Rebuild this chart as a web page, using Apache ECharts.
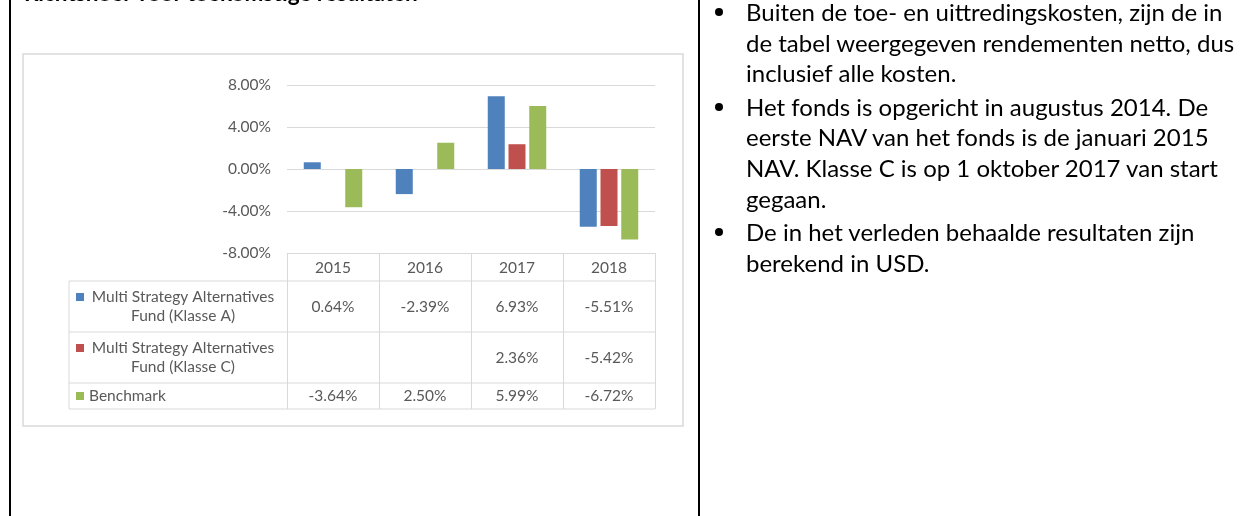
<!DOCTYPE html>
<html>
<head>
<meta charset="utf-8">
<script src="https://cdn.jsdelivr.net/npm/echarts@6/dist/echarts.min.js"></script>
<style>
body{margin:0;background:#fff;}
#page{position:relative;width:1246px;height:516px;overflow:hidden;font-family:Lato,sans-serif;color:#000;}
#chart{position:absolute;left:0;top:0;width:1246px;height:516px;}
.vline{position:absolute;top:0;width:2px;height:516px;background:#000;}
#title{position:absolute;left:24px;top:-22px;font-weight:bold;font-size:22.5px;line-height:30px;white-space:nowrap;}
#notes{position:absolute;left:716px;top:-3px;font-size:24px;line-height:30.7px;white-space:nowrap;}
#notes .item{position:relative;padding-left:30px;margin-bottom:2.5px;}
#notes .item:before{content:'';position:absolute;left:-1px;top:11px;width:8px;height:8px;border-radius:50%;background:#000;}
</style>
</head>
<body>
<div id="page">
  <div id="chart"></div>
  <div class="vline" style="left:9px"></div>
  <div class="vline" style="left:698px"></div>
  <div id="title">Richtsnoer voor toekomstige resultaten</div>
  <div id="notes">
    <div class="item">Buiten de toe- en uittredingskosten, zijn de in<br>de tabel weergegeven rendementen netto, dus<br>inclusief alle kosten.</div>
    <div class="item">Het fonds is opgericht in augustus 2014. De<br>eerste NAV van het fonds is de januari 2015<br>NAV. Klasse C is op 1 oktober 2017 van start<br>gegaan.</div>
    <div class="item">De in het verleden behaalde resultaten zijn<br>berekend in USD.</div>
  </div>
</div>
<script>
// data (percent)
var years = ['2015', '2016', '2017', '2018'];
var klasseA = [0.64, -2.39, 6.93, -5.51];
var klasseC = [null, null, 2.36, -5.42];
var benchmark = [-3.64, 2.50, 5.99, -6.72];
var seriesNames = ['Multi Strategy Alternatives\nFund (Klasse A)', 'Multi Strategy Alternatives\nFund (Klasse C)', 'Benchmark'];
var seriesColors = ['#4f81bd', '#c0504d', '#9bbb59'];
var yMin = -8, yMax = 8, yStep = 4;

var gridColor = '#d9d9d9';
var textColor = '#595959';
var font = 'Lato, sans-serif';
var fontSize = 15.5;

var table = {
	left: 69,
	top: 253,
	headerHeight: 28,
	rowHeights: [51, 51, 26]
};

var chart = echarts.init(document.getElementById('chart'));

function pct(v) {
	return v.toFixed(2) + '%';
}

function buildSeries() {
	var all = [klasseA, klasseC, benchmark];
	return all.map(function (values, i) {
		return {
			name: seriesNames[i],
			type: 'bar',
			data: values,
			barWidth: 17,
			barGap: '22%',
			itemStyle: { color: seriesColors[i] },
			silent: true
		};
	});
}

chart.setOption({
	animation: false,
	grid: { left: 287, right: 591, top: 85, bottom: 263 },
	xAxis: {
		type: 'category',
		data: years,
		axisLine: { show: true, onZero: false, lineStyle: { color: gridColor, width: 1 } },
		axisTick: { show: true, length: 156, lineStyle: { color: gridColor, width: 1 } },
		axisLabel: { color: textColor, fontFamily: font, fontSize: fontSize, margin: 7 }
	},
	yAxis: {
		type: 'value',
		min: yMin,
		max: yMax,
		interval: yStep,
		axisLine: { show: false },
		axisTick: { show: false },
		axisLabel: { color: textColor, fontFamily: font, fontSize: fontSize, margin: 16, formatter: pct },
		splitLine: { lineStyle: { color: gridColor, width: 1 } }
	},
	series: buildSeries()
});

// data table under the plot, laid out from the axis positions
function drawTable() {
	var all = [klasseA, klasseC, benchmark];
	var right = chart.convertToPixel({ xAxisIndex: 0 }, years[years.length - 1]);
	var band = chart.convertToPixel({ xAxisIndex: 0 }, years[1]) - chart.convertToPixel({ xAxisIndex: 0 }, years[0]);
	var tableRight = right + band / 2;
	var plotLeft = chart.convertToPixel({ xAxisIndex: 0 }, years[0]) - band / 2;
	var elements = [];

	// outer chart frame
	elements.push({
		type: 'rect', shape: { x: 23, y: 54, width: 660, height: 372 },
		style: { fill: null, stroke: gridColor, lineWidth: 1.5 }, silent: true
	});

	var y = table.top + table.headerHeight;
	elements.push({ type: 'line', shape: { x1: table.left, y1: y, x2: tableRight, y2: y }, style: { stroke: gridColor, lineWidth: 1 } });
	var rowTop = y;
	for (var r = 0; r < all.length; r++) {
		var h = table.rowHeights[r];
		var mid = rowTop + h / 2;
		var bottom = rowTop + h;
		elements.push({ type: 'line', shape: { x1: table.left, y1: bottom, x2: tableRight, y2: bottom }, style: { stroke: gridColor, lineWidth: 1 } });

		// legend key + label
		var twoLines = seriesNames[r].indexOf('\n') >= 0;
		var keyY = twoLines ? mid - 9.5 : mid;
		elements.push({
			type: 'rect', shape: { x: table.left + 7, y: keyY - 4, width: 8, height: 8 },
			style: { fill: seriesColors[r] }
		});
		elements.push({
			type: 'text',
			x: twoLines ? (table.left + 20 + plotLeft - 10) / 2 : table.left + 20,
			y: mid,
			style: {
				text: seriesNames[r],
				fill: textColor,
				font: fontSize + 'px ' + font,
				lineHeight: 19,
				align: twoLines ? 'center' : 'left',
				verticalAlign: 'middle'
			}
		});

		// values
		for (var c = 0; c < years.length; c++) {
			var v = all[r][c];
			if (v === null) continue;
			elements.push({
				type: 'text',
				x: chart.convertToPixel({ xAxisIndex: 0 }, years[c]),
				y: mid,
				style: { text: pct(v), fill: textColor, font: fontSize + 'px ' + font, align: 'center', verticalAlign: 'middle' }
			});
		}
		rowTop = bottom;
	}
	elements.push({ type: 'line', shape: { x1: table.left, y1: table.top + table.headerHeight, x2: table.left, y2: rowTop }, style: { stroke: gridColor, lineWidth: 1 } });

	chart.setOption({ graphic: elements });
}

drawTable();
</script>
</body>
</html>
